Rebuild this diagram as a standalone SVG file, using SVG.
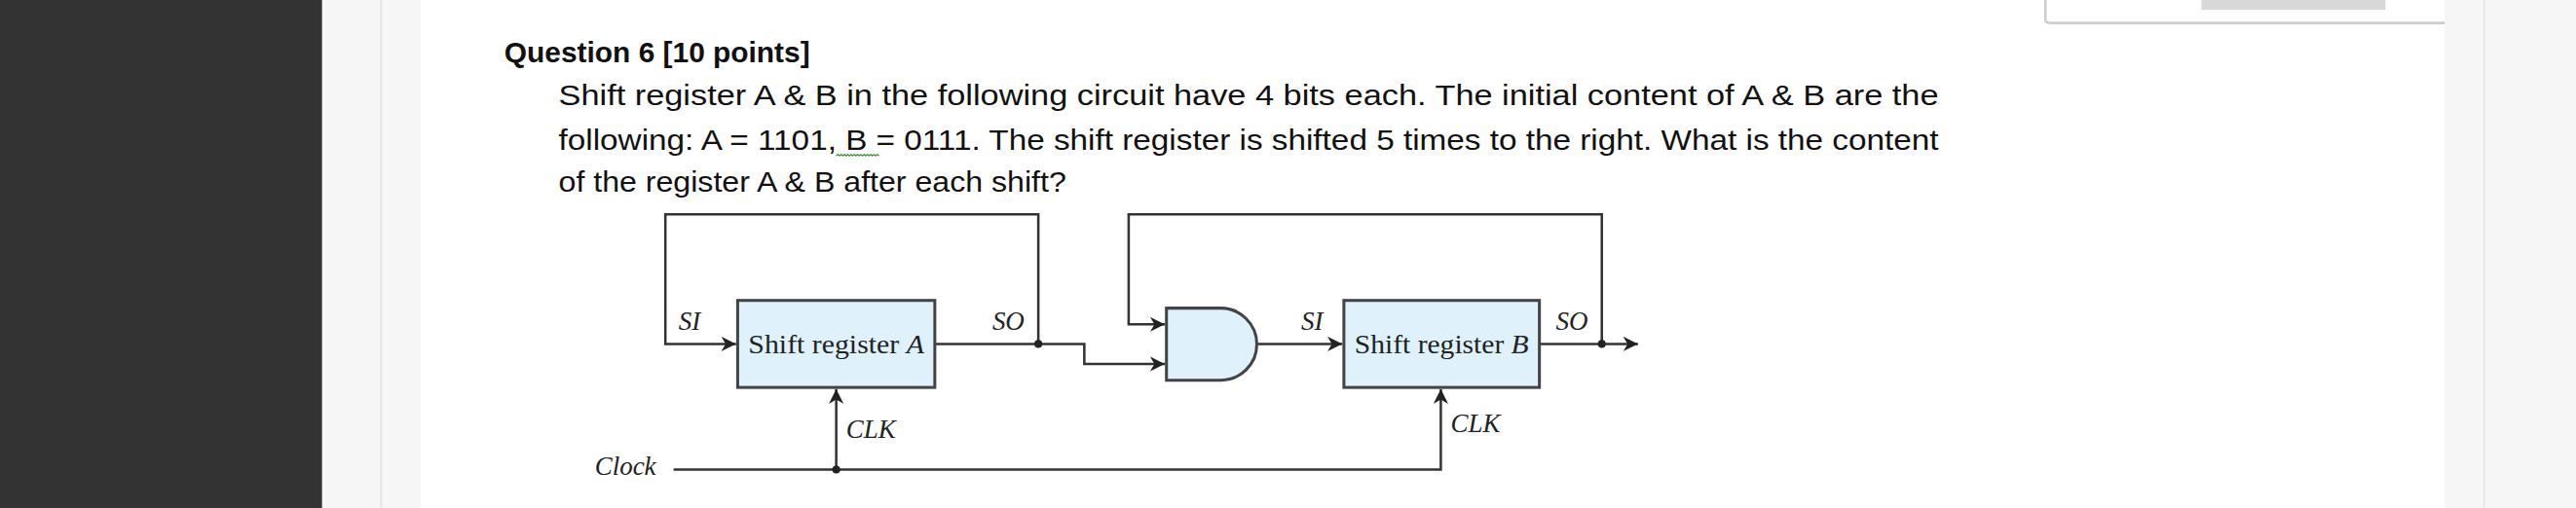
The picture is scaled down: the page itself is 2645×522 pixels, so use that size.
<svg xmlns="http://www.w3.org/2000/svg" width="2645" height="522" viewBox="0 0 2645 522">
<defs>
<marker id="ar" viewBox="0 0 10 10" refX="10" refY="5" markerWidth="9" markerHeight="9" markerUnits="userSpaceOnUse" orient="auto"><path d="M0,0 L10,5 L0,10 L3,5 z" fill="#222"/></marker>
</defs>
<style>
.w{fill:none;stroke:#333;stroke-width:1.5}
.b{fill:#dff1fb;stroke:#444;stroke-width:1.8}
.q{font-family:"Liberation Sans",Arial,sans-serif;font-size:17px;fill:#111}
.d{font-family:"Liberation Serif","Times New Roman",serif;font-size:16px;fill:#222}
.i{font-style:italic}
</style>
<rect width="2645" height="522" fill="#f6f6f6"/>
<g transform="scale(1.6869)">
<rect x="0" y="0" width="196" height="310" fill="#333"/>
<line x1="232" y1="0" x2="232" y2="310" stroke="#e4e4e4"/>
<rect x="256" y="0" width="1232" height="310" fill="#fff"/>
<line x1="1512" y1="0" x2="1512" y2="310" stroke="#e4e4e4"/>
<path d="M1245,0 V12 Q1245,14 1248,14 H1488" fill="none" stroke="#ccc" stroke-width="1.5"/>
<rect x="1340" y="0" width="112" height="6" fill="#d8d8d8"/>
<text class="q" x="307" y="38" font-weight="bold" font-size="16" textLength="186" lengthAdjust="spacingAndGlyphs">Question 6 [10 points]</text>
<text class="q" x="340" y="64" textLength="840" lengthAdjust="spacingAndGlyphs">Shift register A &amp; B in the following circuit have 4 bits each.  The initial content of A &amp; B are the</text>
<text class="q" x="340" y="91" textLength="840" lengthAdjust="spacingAndGlyphs">following:  A = 1101,  B = 0111. The shift register is shifted 5 times to the right. What is the content</text>
<path d="M509,95 l1,-1 l1,1 l1,-1 l1,1 l1,-1 l1,1 l1,-1 l1,1 l1,-1 l1,1 l1,-1 l1,1 l1,-1 l1,1 l1,-1 l1,1 l1,-1 l1,1 l1,-1 l1,1 l1,-1 l1,1 l1,-1 l1,1 l1,-1 l1,1" fill="none" stroke="#3a9a3a" stroke-width="0.7"/>
<text class="q" x="340" y="117" textLength="309" lengthAdjust="spacingAndGlyphs">of the register A &amp; B after each shift?</text>

<g id="connectors">
<path class="w" d="M632,209.5 V130.5 H405 V209.5 H448" marker-end="url(#ar)"/>
<path class="w" d="M569,209.5 H660 V221.7 H709" marker-end="url(#ar)"/>
<path class="w" d="M975,209.5 V130.5 H687 V197.6 H709" marker-end="url(#ar)"/>
<path class="w" d="M765,209.5 H817" marker-end="url(#ar)"/>
<path class="w" d="M937,209.5 H997" marker-end="url(#ar)"/>
<path class="w" d="M410,286 H877 V237" marker-end="url(#ar)"/>
<path class="w" d="M509,286 V237" marker-end="url(#ar)"/>
<circle cx="632" cy="209.5" r="2.4" fill="#222"/>
<circle cx="975" cy="209.5" r="2.4" fill="#222"/>
<circle cx="509" cy="286" r="2.4" fill="#222"/>
</g>
<g id="regA">
<rect class="b" x="449" y="183" width="120" height="53"/>
<text class="d" x="509" y="215" text-anchor="middle" textLength="107" lengthAdjust="spacingAndGlyphs">Shift register <tspan class="i">A</tspan></text>
<text class="d i" x="413" y="201" font-size="17">SI</text>
<text class="d i" x="604" y="201" font-size="17">SO</text>
<text class="d i" x="515" y="267" font-size="17">CLK</text>
</g>
<g id="gate">
<path class="b" d="M710,187.7 H743 A22,21.95 0 0 1 743,231.6 H710 Z"/>
</g>
<g id="regB">
<rect class="b" x="818" y="183" width="119" height="53"/>
<text class="d" x="877.5" y="215" text-anchor="middle" textLength="106" lengthAdjust="spacingAndGlyphs">Shift register <tspan class="i">B</tspan></text>
<text class="d i" x="792" y="201" font-size="17">SI</text>
<text class="d i" x="947" y="201" font-size="17">SO</text>
<text class="d i" x="883" y="263" font-size="17">CLK</text>
</g>
<text id="clock" class="d i" x="362" y="289" font-size="16">Clock</text>
</g>
</svg>
